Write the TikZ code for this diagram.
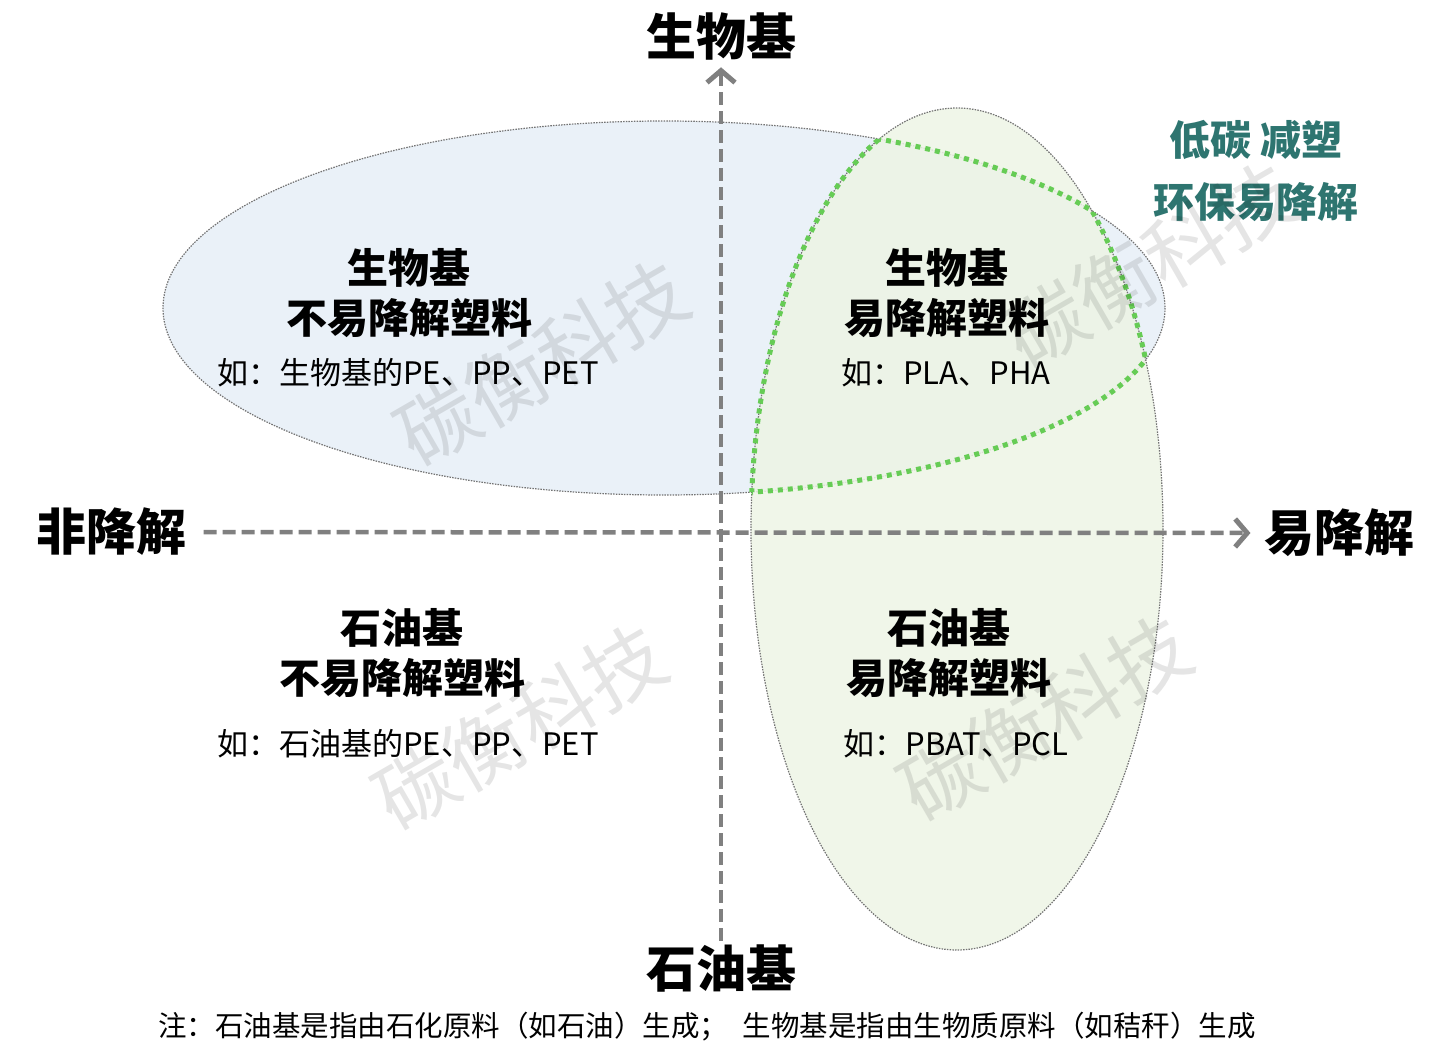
\documentclass[tikz,border=0pt]{standalone}
\usepackage{fontspec}
\setmainfont{Noto Sans CJK SC}
\usetikzlibrary{arrows.meta}

\definecolor{bluefill}{RGB}{234,241,248}
\definecolor{greenfill}{RGB}{237,244,229}
\definecolor{axisgray}{RGB}{128,128,128}
\definecolor{dotgreen}{RGB}{102,204,85}
\definecolor{slogancolor}{RGB}{46,117,112}
\definecolor{rimgray}{RGB}{115,115,115}

\begin{document}
\begin{tikzpicture}[x=1pt,y=-1pt,
    axislabel/.style={font=\fontsize{50}{58}\selectfont\bfseries},
    title/.style={font=\fontsize{41}{50}\selectfont\bfseries, align=center},
    example/.style={font=\fontsize{31}{36}\selectfont},
    slogan/.style={font=\fontsize{41}{48}\selectfont\bfseries, text=slogancolor},
    note/.style={font=\fontsize{28.5}{32}\selectfont},
    watermark/.style={font=\fontsize{80}{80}\selectfont, text=black, text opacity=0.1, rotate=30},
    rim/.style={draw=rimgray, line width=1.2pt, dash pattern=on 1.5pt off 1.2pt},
    overlap/.style={draw=dotgreen, line width=5pt, dash pattern=on 5pt off 5pt},
    axis/.style={draw=axisgray, line width=4.5pt, dash pattern=on 13pt off 6pt,
        -{Straight Barb[length=12pt, width=28pt, line width=5pt]}}
]

    % Define parameters
    \def\bioX{664}   % bio-based ellipse
    \def\bioY{308}
    \def\bioRx{501}
    \def\bioRy{187}
    \def\degX{957}   % degradable ellipse
    \def\degY{529}
    \def\degRx{206}
    \def\degRy{421}

    \useasboundingbox (0,0) rectangle (1452,1060);

    % Draw the two regions
    \fill[bluefill] (\bioX,\bioY) ellipse [x radius=\bioRx, y radius=\bioRy];
    \draw[rim] (\bioX,\bioY) ellipse [x radius=\bioRx, y radius=\bioRy];
    \fill[greenfill, opacity=0.85] (\degX,\degY) ellipse [x radius=\degRx, y radius=\degRy];
    \draw[rim] (\degX,\degY) ellipse [x radius=\degRx, y radius=\degRy];

    % Outline of the overlap
    \begin{scope}
        \clip (\degX,\degY) ellipse [x radius=\degRx, y radius=\degRy];
        \draw[overlap] (\bioX,\bioY) ellipse [x radius=\bioRx, y radius=\bioRy];
    \end{scope}
    \begin{scope}
        \clip (\bioX,\bioY) ellipse [x radius=\bioRx, y radius=\bioRy];
        \draw[overlap] (\degX,\degY) ellipse [x radius=\degRx, y radius=\degRy];
    \end{scope}

    % Axis labels
    \node[axislabel] (ytop) at (721,36) {生物基};
    \node[axislabel] (ybottom) at (721,968) {石油基};
    \node[axislabel] (xleft) at (111,532) {非降解};
    \node[axislabel] (xright) at (1339,533) {易降解};

    % Axes
    \draw[axis, shorten >=4pt] (ybottom.north) -- (ytop.south);
    \draw[axis, shorten <=14pt, shorten >=10pt] (xleft.east) -- (xright.west);

    % Quadrant texts
    \node[title] (bioHard) at (409,293) {生物基\\不易降解塑料};
    \node[example] (bioHardEx) at (408,373) {如：生物基的PE、PP、PET};
    \node[title] (bioSoft) at (947,293) {生物基\\易降解塑料};
    \node[example] (bioSoftEx) at (946,373) {如：PLA、PHA};
    \node[title] (oilHard) at (402,653) {石油基\\不易降解塑料};
    \node[example] (oilHardEx) at (408,744) {如：石油基的PE、PP、PET};
    \node[title] (oilSoft) at (949,653) {石油基\\易降解塑料};
    \node[example] (oilSoftEx) at (956,744) {如：PBAT、PCL};

    % Slogan
    \node[slogan] (sloganA) at (1256,140) {低碳 减塑};
    \node[slogan] (sloganB) at (1256,202) {环保易降解};

    % Watermarks
    \node[watermark] (markA) at (542,363) {碳衡科技};
    \node[watermark] (markB) at (520,727) {碳衡科技};
    \node[watermark] (markC) at (1045,718) {碳衡科技};
    \node[watermark] (markD) at (1150,265) {碳衡科技};

    % Footnote
    \node[note] (footnote) at (707,1027) {注：石油基是指由石化原料（如石油）生成；\enspace 生物基是指由生物质原料（如秸秆）生成};

\end{tikzpicture}
\end{document}
